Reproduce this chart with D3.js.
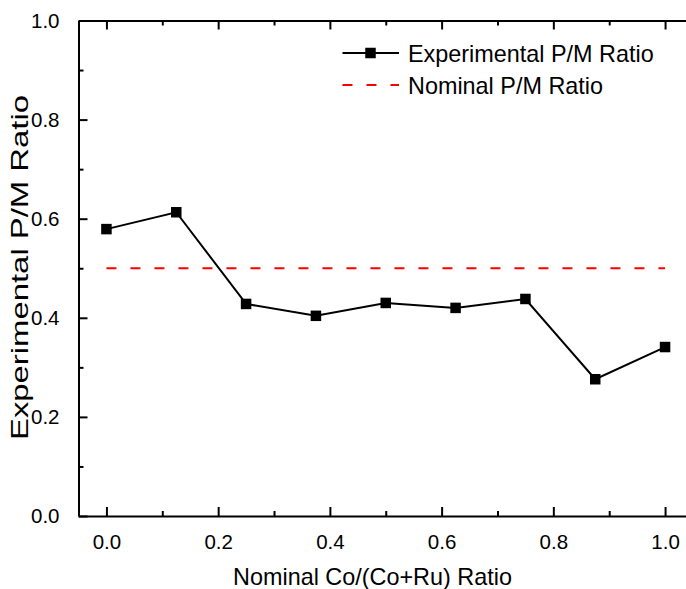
<!DOCTYPE html>
<html><head><meta charset="utf-8">
<script src="https://cdn.jsdelivr.net/npm/d3@7"></script>
<style>body{margin:0;background:#fff}svg{display:block}text{font-family:"Liberation Sans",Arial,sans-serif;fill:#000}</style>
</head><body>
<script>
const xValues = [0.0, 0.125, 0.25, 0.375, 0.5, 0.625, 0.75, 0.875, 1.0];
const experimental = [0.579, 0.613, 0.428, 0.404, 0.430, 0.420, 0.438, 0.276, 0.341];
const nominal = [0.5, 0.5];
const nominalX = [0.0, 1.0];
const xTicks = [0.0, 0.2, 0.4, 0.6, 0.8, 1.0];
const yTicks = [0.0, 0.2, 0.4, 0.6, 0.8, 1.0];
const xMinor = [0.1, 0.3, 0.5, 0.7, 0.9];
const yMinor = [0.1, 0.3, 0.5, 0.7, 0.9];
const seriesNames = ["Experimental P/M Ratio", "Nominal P/M Ratio"];

const W = 686, H = 589;
const L = 78.5, R = 693, T = 20.5, B = 516;
const svg = d3.select("body").append("svg").attr("width", W).attr("height", H);
const x = d3.scaleLinear().domain([-0.05, 1.05]).range([L, R]);
const y = d3.scaleLinear().domain([0, 1]).range([B, T]);
const fmt = d3.format(".1f");

// nominal dashed line
svg.append("path")
  .datum(nominalX.map((d, i) => [d, nominal[i]]))
  .attr("d", d3.line().x(d => x(d[0])).y(d => y(d[1])))
  .attr("fill", "none").attr("stroke", "#ff0000").attr("stroke-width", 2)
  .attr("stroke-dasharray", "10,14");

// experimental line
svg.append("path")
  .datum(xValues.map((d, i) => [d, experimental[i]]))
  .attr("d", d3.line().x(d => x(d[0])).y(d => y(d[1])))
  .attr("fill", "none").attr("stroke", "#000").attr("stroke-width", 2);
const ms = 10.5;
svg.selectAll("rect.m").data(xValues).enter().append("rect").attr("class", "m")
  .attr("x", (d) => x(d) - ms / 2).attr("y", (d, i) => y(experimental[i]) - ms / 2)
  .attr("width", ms).attr("height", ms).attr("fill", "#000");

// axes
function style(g) {
  g.select(".domain").attr("stroke-width", 2);
  g.selectAll(".tick line").attr("stroke-width", 2);
}
const xb = svg.append("g").attr("transform", `translate(0,${B})`)
  .call(d3.axisBottom(x).tickValues(xTicks).tickFormat(fmt).tickSizeInner(-9).tickSizeOuter(0).tickPadding(18));
xb.call(style);
xb.selectAll("text").attr("font-size", 20.5).attr("dy", "0.71em");
svg.append("g").attr("transform", `translate(0,${B})`)
  .call(d3.axisBottom(x).tickValues(xMinor).tickFormat("").tickSizeInner(-5).tickSizeOuter(0))
  .call(style).select(".domain").remove();

const xt = svg.append("g").attr("transform", `translate(0,${T})`)
  .call(d3.axisTop(x).tickValues(xTicks).tickFormat("").tickSizeInner(-9).tickSizeOuter(0));
xt.call(style);
svg.append("g").attr("transform", `translate(0,${T})`)
  .call(d3.axisTop(x).tickValues(xMinor).tickFormat("").tickSizeInner(-5).tickSizeOuter(0))
  .call(style).select(".domain").remove();

const yl = svg.append("g").attr("transform", `translate(${L},0)`)
  .call(d3.axisLeft(y).tickValues(yTicks).tickFormat(fmt).tickSizeInner(-9).tickSizeOuter(0).tickPadding(19));
yl.call(style);
yl.selectAll("text").attr("font-size", 20.5);
svg.append("g").attr("transform", `translate(${L},0)`)
  .call(d3.axisLeft(y).tickValues(yMinor).tickFormat("").tickSizeInner(-5).tickSizeOuter(0))
  .call(style).select(".domain").remove();

// axis titles
svg.append("text").attr("x", 372.5).attr("y", 585).attr("text-anchor", "middle")
  .attr("font-size", 23.4).text("Nominal Co/(Co+Ru) Ratio");
svg.append("text").attr("transform", `translate(28,267.5) rotate(-90)`).attr("text-anchor", "middle")
  .attr("font-size", 24).attr("textLength", 345).attr("lengthAdjust", "spacingAndGlyphs")
  .text("Experimental P/M Ratio");

// legend
const lg = svg.append("g");
lg.append("line").attr("x1", 342.5).attr("x2", 399).attr("y1", 53).attr("y2", 53)
  .attr("stroke", "#000").attr("stroke-width", 2);
lg.append("rect").attr("x", 370.5 - ms / 2).attr("y", 53 - ms / 2).attr("width", ms).attr("height", ms).attr("fill", "#000");
lg.append("line").attr("x1", 342.5).attr("x2", 399).attr("y1", 85).attr("y2", 85)
  .attr("stroke", "#ff0000").attr("stroke-width", 2).attr("stroke-dasharray", "10,14");
lg.selectAll("text.lt").data(seriesNames).enter().append("text").attr("class", "lt")
  .attr("x", 408).attr("y", (d, i) => 61.5 + i * 32).attr("font-size", 23.4).text(d => d);
</script>
</body></html>
